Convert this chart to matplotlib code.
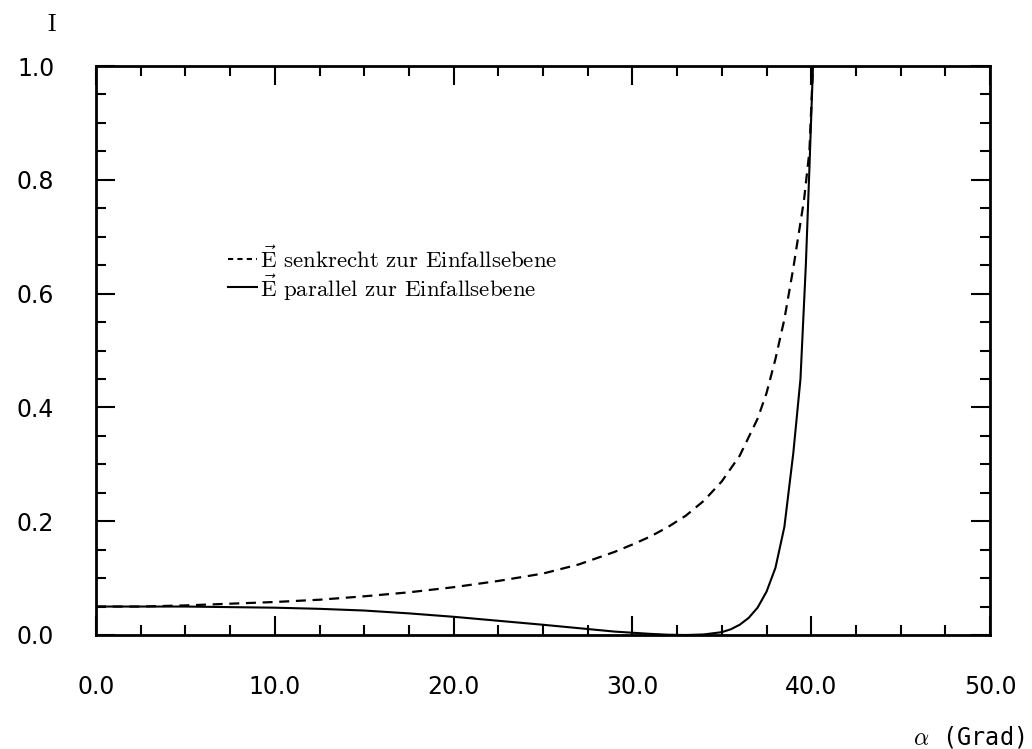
import matplotlib
matplotlib.use("Agg")
import matplotlib.pyplot as plt
from matplotlib.ticker import MultipleLocator, FormatStrFormatter

# angle of incidence (degrees) and reflectivities
alpha_s = [0, 2.5, 5, 7.5, 10, 12.5, 15, 17.5, 20, 22.5, 25, 27, 29, 30, 31, 32,
           33, 34, 35, 36, 37, 37.5, 38, 38.5, 39, 39.3, 39.6, 39.9, 40.1]
r_senkrecht = [0.050, 0.050, 0.052, 0.055, 0.058, 0.062, 0.068, 0.075, 0.084,
               0.095, 0.108, 0.124, 0.146, 0.159, 0.173, 0.190, 0.210, 0.236,
               0.270, 0.315, 0.380, 0.425, 0.485, 0.555, 0.645, 0.705, 0.765,
               0.850, 1.000]

alpha_p = [0, 2.5, 5, 7.5, 10, 12.5, 15, 17.5, 20, 22.5, 25, 27, 29, 30, 31, 32,
           33, 34, 35, 35.5, 36, 36.5, 37, 37.5, 38, 38.5, 39, 39.4, 39.7, 39.9, 40.1]
r_parallel = [0.050, 0.050, 0.050, 0.049, 0.048, 0.046, 0.043, 0.038, 0.032,
              0.025, 0.018, 0.012, 0.006, 0.004, 0.002, 0.0005, 0.000, 0.001,
              0.005, 0.010, 0.018, 0.030, 0.048, 0.076, 0.118, 0.190, 0.320,
              0.450, 0.650, 0.820, 1.000]

x_ticks = [0, 10, 20, 30, 40, 50]
y_ticks = [0.0, 0.2, 0.4, 0.6, 0.8, 1.0]
label_s = r"$\vec{\mathrm{E}}$ senkrecht zur Einfallsebene"
label_p = r"$\vec{\mathrm{E}}$ parallel zur Einfallsebene"

plt.rcParams["mathtext.fontset"] = "cm"
plt.rcParams["axes.formatter.use_mathtext"] = False

fig = plt.figure(figsize=(10.32, 7.49), dpi=100)
ax = fig.add_axes([96 / 1032, 1 - 635 / 749, 894 / 1032, 569 / 749])

ax.plot(alpha_s, r_senkrecht, color="black", lw=1.6, linestyle=(0, (4.5, 3.0)))
ax.plot(alpha_p, r_parallel, color="black", lw=1.5)

ax.set_xlim(0, 50)
ax.set_ylim(0, 1.0)
ax.set_xticks(x_ticks)
ax.set_yticks(y_ticks)
ax.xaxis.set_minor_locator(MultipleLocator(2.5))
ax.yaxis.set_minor_locator(MultipleLocator(0.05))
ax.xaxis.set_major_formatter(FormatStrFormatter("%.1f"))
ax.yaxis.set_major_formatter(FormatStrFormatter("%.1f"))

ax.tick_params(which="both", direction="in", top=True, right=True, width=1.5,
               color="black")
ax.tick_params(which="major", length=14)
ax.tick_params(which="minor", length=7)
ax.tick_params(axis="x", which="major", pad=29, labelsize=17)
ax.tick_params(axis="y", which="major", pad=30, labelsize=17)
for lab in ax.get_xticklabels() + ax.get_yticklabels():
    lab.set_family("DejaVu Sans")
for sp in ax.spines.values():
    sp.set_linewidth(2.0)

# legend drawn as text with short line samples
ax.plot([7.4, 9.0], [0.6615, 0.6615], color="black", lw=1.5,
        linestyle=(0, (2.5, 2.0)), clip_on=False)
ax.plot([7.4, 9.0], [0.6115, 0.6115], color="black", lw=1.5, clip_on=False)
ax.text(9.2, 0.661, label_s, fontsize=16.5, family="cmr10", va="center")
ax.text(9.2, 0.611, label_p, fontsize=16.5, family="cmr10", va="center")

fig.text(52 / 1032, 1 - 25 / 749, "I", fontsize=17, family="cmr10",
         ha="center", va="center")
fig.text(1025 / 1032, 1 - 737 / 749, r"$\alpha$ (Grad)", fontsize=17,
         family="DejaVu Sans Mono", ha="right", va="center")

fig.savefig("out.png", dpi=100)
